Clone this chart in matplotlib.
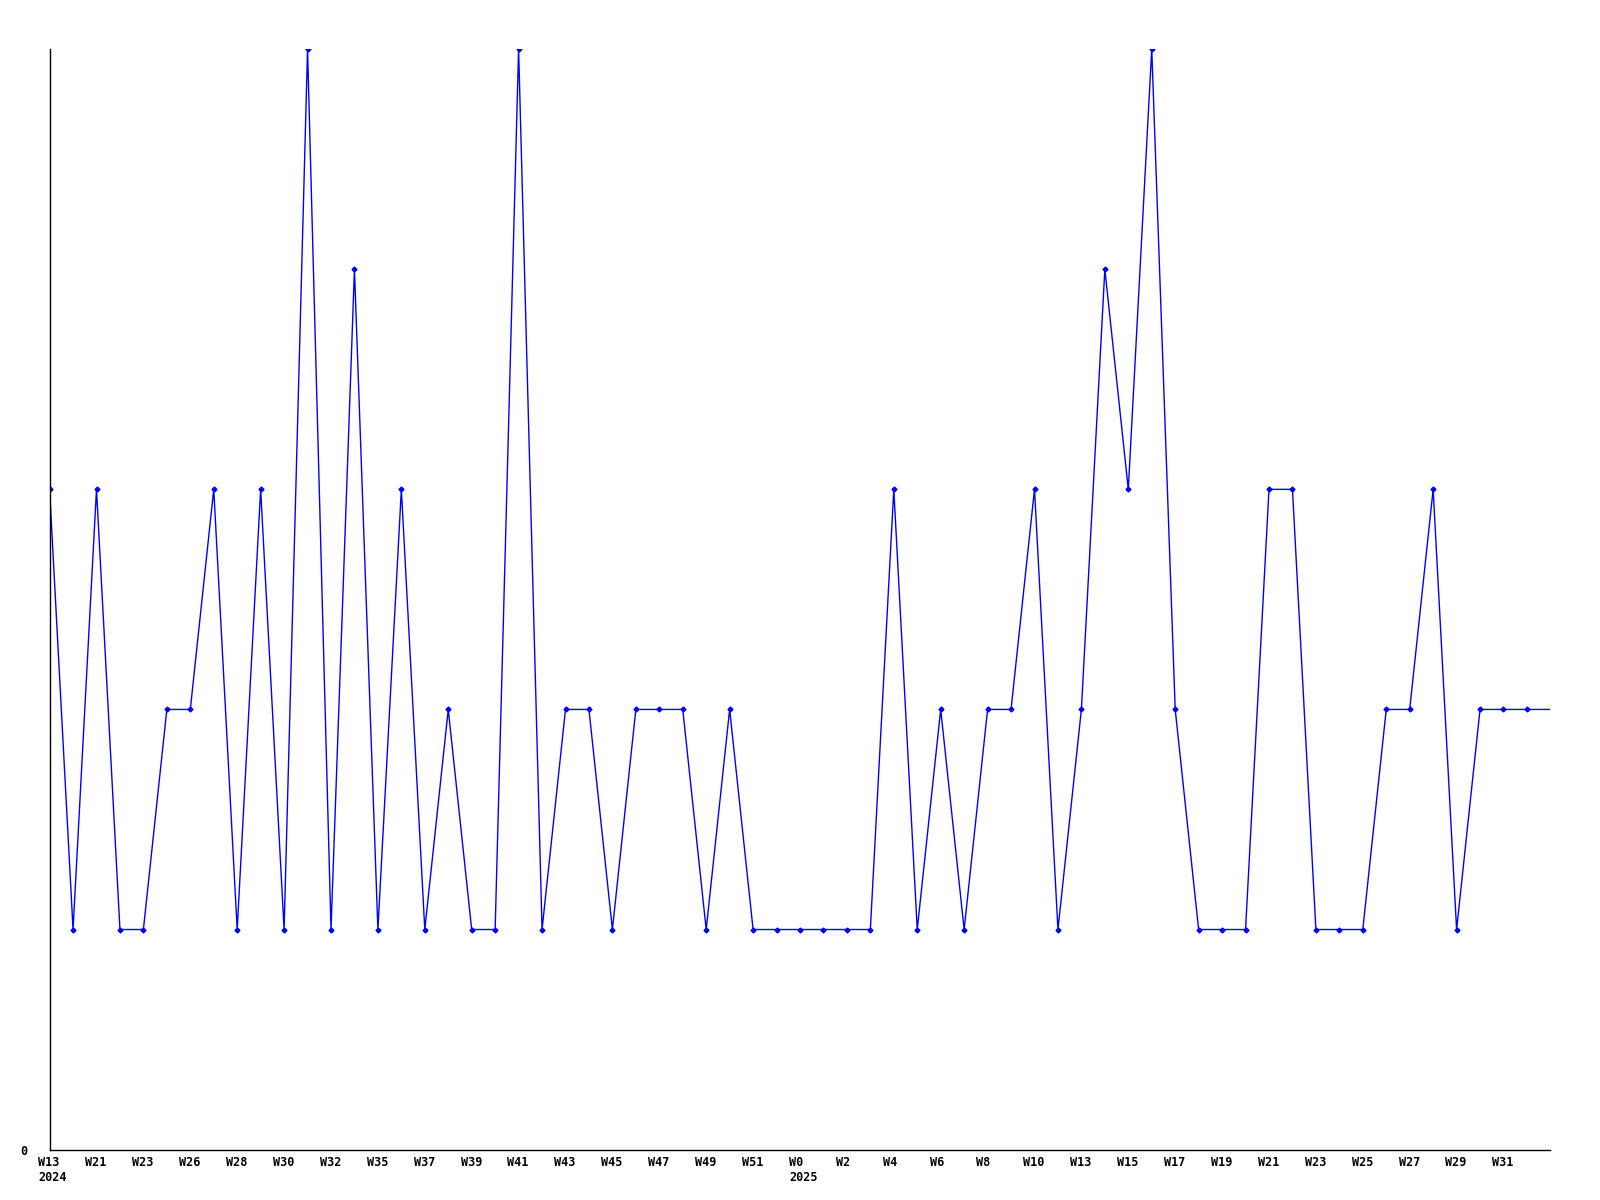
import matplotlib
matplotlib.use("Agg")
import matplotlib.pyplot as plt
from matplotlib.transforms import blended_transform_factory

# weekly counts, one entry per week shown on the chart
values = [3, 1, 3, 1, 1, 2, 2, 3, 1, 3,
          1, 5, 1, 4, 1, 3, 1, 2, 1, 1,
          5, 1, 2, 2, 1, 2, 2, 2, 1, 2,
          1, 1, 1, 1, 1, 1, 3, 1, 2, 1,
          2, 2, 3, 1, 2, 4, 3, 5, 2, 1,
          1, 1, 3, 3, 1, 1, 1, 2, 2, 3,
          1, 2, 2, 2, 2]

week_labels = ["W13", "W21", "W23", "W26", "W28", "W30", "W32", "W35",
               "W37", "W39", "W41", "W43", "W45", "W47", "W49", "W51",
               "W0", "W2", "W4", "W6", "W8", "W10", "W13", "W15",
               "W17", "W19", "W21", "W23", "W25", "W27", "W29", "W31"]

# year markers: (label index, year)
years = [(0, "2024"), (16, "2025")]

FS = 8.5
font = dict(fontfamily="DejaVu Sans Mono", fontweight="bold", fontsize=FS)

x = list(range(len(values)))

fig = plt.figure(figsize=(16, 12), dpi=100)
ax = fig.add_axes([0.031, 0.042, 0.938, 0.917])

ax.plot(x, values, color="#0000ff", linewidth=1)
# the last point carries no marker in the original
ax.plot(x[:-1], values[:-1], linestyle="none", marker="D", markersize=2.5,
        color="#0000ff")

ax.set_xlim(0, len(values) - 1)
ax.set_ylim(0, 5)

tick_pos = x[::2][:len(week_labels)]
ax.set_xticks(tick_pos)
ax.set_xticklabels([])
ax.set_yticks([0])
ax.set_yticklabels(["0"], **font)
ax.tick_params(axis="both", length=0)
ax.tick_params(axis="y", pad=16)

# week labels start a little left of their point, year goes underneath
trans = blended_transform_factory(ax.transData, ax.transAxes)
for pos, lab in zip(tick_pos, week_labels):
    ax.annotate(lab, xy=(pos, 0), xycoords=trans,
                xytext=(-8, -4.5), textcoords="offset points",
                ha="left", va="top", annotation_clip=False, **font)
for idx, year in years:
    ax.annotate(year, xy=(tick_pos[idx], 0), xycoords=trans,
                xytext=(-8, -15.5), textcoords="offset points",
                ha="left", va="top", annotation_clip=False, **font)

for side in ["top", "right"]:
    ax.spines[side].set_visible(False)
for side in ["left", "bottom"]:
    ax.spines[side].set_linewidth(1)
    ax.spines[side].set_color("black")

fig.savefig("out.png", dpi=100)
